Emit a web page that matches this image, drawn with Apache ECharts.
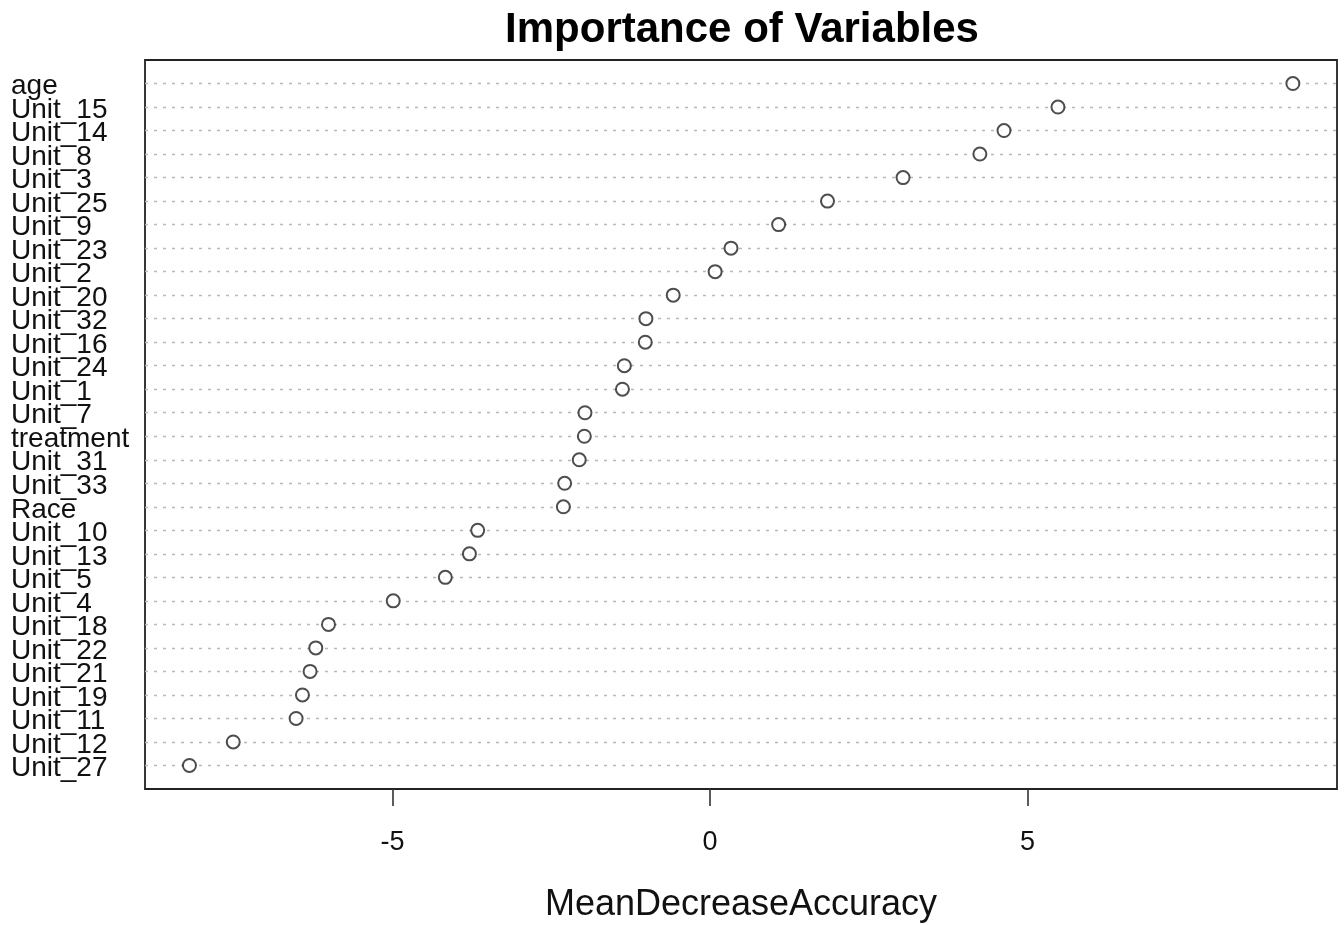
<!DOCTYPE html>
<html>
<head>
<meta charset="utf-8">
<title>Importance of Variables</title>
<script src="https://cdn.jsdelivr.net/npm/echarts@6/dist/echarts.min.js"></script>
<style>
	html, body { margin: 0; padding: 0; background: #fff; }
	#chart { width: 1344px; height: 925px; }
</style>
</head>
<body>
<div id="chart"></div>
<script>
// variables, top to bottom, as in the dotchart
var names = ['age', 'Unit_15', 'Unit_14', 'Unit_8', 'Unit_3', 'Unit_25', 'Unit_9', 'Unit_23', 'Unit_2', 'Unit_20',
	'Unit_32', 'Unit_16', 'Unit_24', 'Unit_1', 'Unit_7', 'treatment', 'Unit_31', 'Unit_33', 'Race', 'Unit_10',
	'Unit_13', 'Unit_5', 'Unit_4', 'Unit_18', 'Unit_22', 'Unit_21', 'Unit_19', 'Unit_11', 'Unit_12', 'Unit_27'];
var meanDecreaseAccuracy = [9.18, 5.48, 4.63, 4.25, 3.04, 1.85, 1.08, 0.33, 0.08, -0.58,
	-1.01, -1.02, -1.35, -1.38, -1.97, -1.98, -2.06, -2.29, -2.31, -3.66,
	-3.79, -4.17, -4.99, -6.01, -6.21, -6.30, -6.42, -6.52, -7.51, -8.20];
var xTicks = [-5, 0, 5];

var font = "'Liberation Sans', Arial, sans-serif";
var n = names.length;

var points = meanDecreaseAccuracy.map(function(v, i){
	return [v, n - i];
});
// one dotted guide line per row
var rowLines = points.map(function(p){
	return {yAxis: p[1]};
});

var chart = echarts.init(document.getElementById('chart'), null, {renderer: 'canvas'});

chart.setOption({
	animation: false,
	backgroundColor: '#fff',
	title: {
		text: 'Importance of Variables',
		left: 737,
		top: 4,
		textAlign: 'center',
		textStyle: {fontFamily: font, fontSize: 42, fontWeight: 'bold', color: '#000'}
	},
	grid: {
		left: 145, right: 7, top: 60, bottom: 136,
		show: true, borderColor: '#222', borderWidth: 1.8,
		containLabel: false,
		outerBoundsMode: 'none'
	},
	xAxis: {
		type: 'value',
		min: -8.9,
		max: 9.875,
		axisLine: {show: false},
		splitLine: {show: false},
		axisTick: {
			show: true, length: 17, customValues: xTicks,
			lineStyle: {color: '#333', width: 1.6}
		},
		axisLabel: {
			customValues: xTicks, margin: 40,
			fontFamily: font, fontSize: 27, color: '#111'
		},
		name: 'MeanDecreaseAccuracy',
		nameLocation: 'middle',
		nameGap: 98,
		nameTextStyle: {fontFamily: font, fontSize: 36, color: '#111'}
	},
	yAxis: {
		type: 'value',
		min: 0,
		max: n + 1,
		interval: 1,
		axisLine: {show: false},
		axisTick: {show: false},
		splitLine: {show: false},
		axisLabel: {
			align: 'left',
			margin: 134,
			formatter: function(v){
				var i = n - v;
				return (i >= 0 && i < n) ? '{a|' + names[i] + '}' : '';
			},
			rich: {
				a: {fontFamily: font, fontSize: 28, color: '#111', padding: [6, 0, 0, 0]}
			}
		}
	},
	series: [{
		type: 'scatter',
		data: points,
		symbol: 'circle',
		symbolSize: 13,
		itemStyle: {color: '#fff', borderColor: '#222', borderWidth: 2},
		z: 5,
		markLine: {
			silent: true,
			symbol: 'none',
			label: {show: false},
			lineStyle: {color: '#b8b8b8', width: 1.3, type: [3, 6]},
			data: rowLines,
			z: 1
		}
	}]
});
</script>
</body>
</html>
